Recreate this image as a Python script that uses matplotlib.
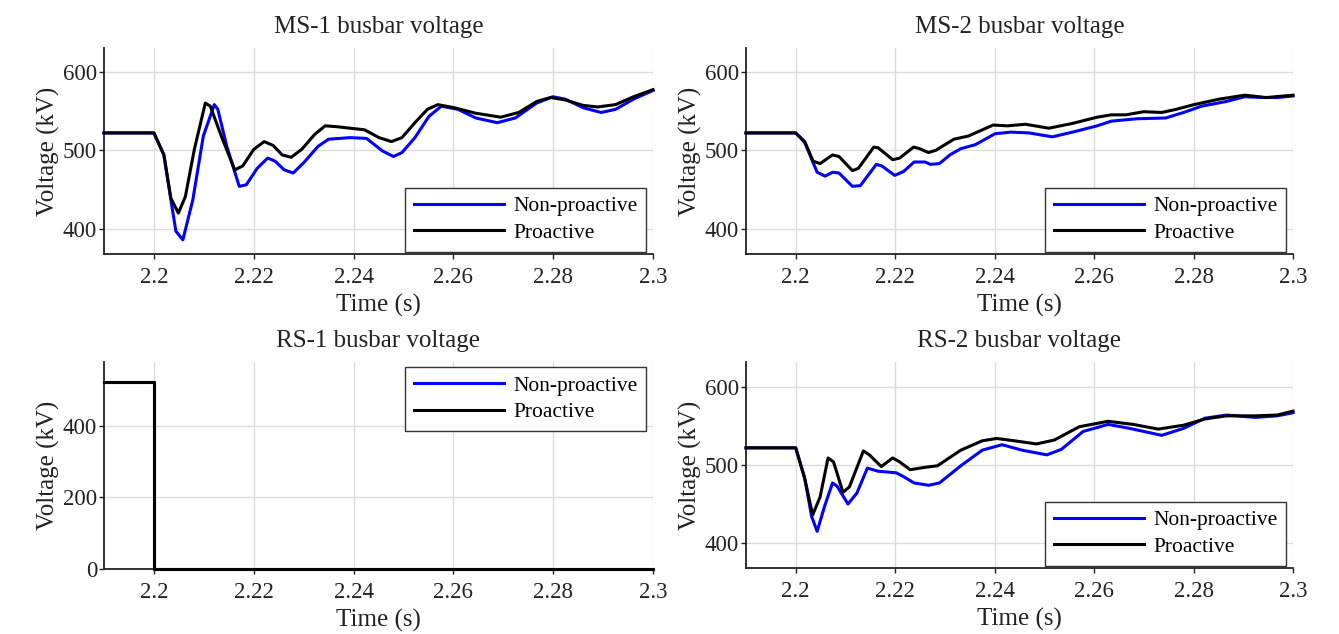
import numpy as np
import matplotlib.pyplot as plt

plt.rcParams['font.family'] = ['Liberation Serif', 'DejaVu Serif']

# MS-1 busbar voltage (kV)
ms1_t_non = [2.19, 2.2, 2.202, 2.2034, 2.2044, 2.2058, 2.2078, 2.2099, 2.2121, 2.2128,
             2.2146, 2.2171, 2.2185, 2.2207, 2.2228, 2.2243, 2.2261, 2.2279, 2.23, 2.2329,
             2.235, 2.2393, 2.2426, 2.2458, 2.248, 2.2497, 2.2523, 2.2551, 2.2576, 2.2609,
             2.2645, 2.2688, 2.2724, 2.2767, 2.2799, 2.2824, 2.286, 2.2896, 2.2925, 2.2961, 2.3]
ms1_v_non = [522, 522, 494, 437, 397, 386, 437, 518, 558, 552,
             505, 454, 456, 477, 490, 486, 475, 471, 484, 505,
             514, 516, 515, 499, 492, 497, 516, 543, 556, 552,
             541, 535, 541, 560, 568, 565, 554, 548, 552, 565, 576]
ms1_t_pro = [2.19, 2.2, 2.202, 2.2034, 2.2049, 2.2063, 2.2081, 2.2103, 2.2113, 2.2135,
             2.2162, 2.2178, 2.22, 2.2221, 2.2239, 2.2257, 2.2275, 2.2296, 2.2322, 2.2343,
             2.2365, 2.2393, 2.2422, 2.2451, 2.2476, 2.2497, 2.2523, 2.2548, 2.2569, 2.2602,
             2.2645, 2.2695, 2.2731, 2.2767, 2.2795, 2.2824, 2.286, 2.2889, 2.2925, 2.2961, 2.3]
ms1_v_pro = [522, 522, 494, 439, 420, 441, 501, 560, 556, 518,
             475, 480, 501, 511, 506, 494, 491, 501, 520, 531,
             530, 528, 526, 516, 511, 516, 535, 552, 558, 554,
             547, 542, 548, 562, 567, 564, 557, 555, 558, 568, 577]

# MS-2 busbar voltage (kV)
ms2_t_non = [2.19, 2.2, 2.2018, 2.2043, 2.2059, 2.2074, 2.2087, 2.2114, 2.213, 2.2162,
             2.2173, 2.2199, 2.2217, 2.2238, 2.226, 2.2271, 2.2289, 2.231, 2.2332, 2.2361,
             2.2401, 2.2433, 2.2469, 2.2516, 2.2563, 2.2606, 2.2635, 2.2686, 2.2744, 2.278,
             2.2816, 2.2866, 2.2903, 2.2939, 2.2968, 2.3]
ms2_v_non = [522, 522, 510, 472, 467, 472, 471, 454, 455, 482,
             480, 468, 473, 485, 485, 482, 483, 494, 502, 507,
             521, 523, 522, 517, 524, 531, 537, 540, 541, 548,
             556, 562, 568, 567, 567, 569]
ms2_t_pro = [2.19, 2.2, 2.2018, 2.2035, 2.2049, 2.2074, 2.2087, 2.2114, 2.2126, 2.2157,
             2.2166, 2.2195, 2.2209, 2.2237, 2.2249, 2.2267, 2.2282, 2.2318, 2.2347, 2.2372,
             2.2397, 2.2426, 2.2462, 2.2509, 2.2556, 2.2606, 2.2635, 2.2664, 2.27, 2.2736,
             2.2765, 2.2801, 2.2852, 2.2903, 2.2946, 2.3]
ms2_v_pro = [522, 522, 511, 486, 483, 494, 492, 474, 477, 504,
             503, 488, 490, 504, 502, 497, 500, 514, 518, 525,
             532, 531, 533, 528, 534, 542, 545, 545, 549, 548,
             552, 558, 565, 570, 567, 570]

# RS-1 busbar voltage (kV)
rs1_t = [2.19, 2.2, 2.2, 2.3]
rs1_v_non = [522, 522, 0, 0]
rs1_v_pro = [522, 522, 0, 0]

# RS-2 busbar voltage (kV)
rs2_t_non = [2.19, 2.2, 2.2018, 2.2032, 2.2043, 2.2058, 2.2074, 2.2083, 2.2105, 2.2123,
             2.2144, 2.2166, 2.2202, 2.2217, 2.2238, 2.2267, 2.2289, 2.2332, 2.2375, 2.2415,
             2.2455, 2.2505, 2.2534, 2.2578, 2.2628, 2.2671, 2.2736, 2.278, 2.2823, 2.2866,
             2.2924, 2.2968, 2.3]
rs2_v_non = [522, 522, 483, 434, 415, 447, 477, 473, 450, 464,
             496, 492, 490, 485, 477, 474, 477, 499, 519, 526,
             519, 513, 520, 543, 552, 547, 538, 547, 560, 564,
             561, 563, 567]
rs2_t_pro = [2.19, 2.2, 2.2018, 2.2034, 2.2049, 2.2065, 2.2076, 2.2095, 2.2108, 2.2136,
             2.2148, 2.2172, 2.2195, 2.2209, 2.223, 2.226, 2.2285, 2.2332, 2.2375, 2.2404,
             2.244, 2.2484, 2.252, 2.257, 2.2628, 2.2679, 2.2729, 2.278, 2.2823, 2.2866,
             2.2924, 2.2968, 2.3]
rs2_v_pro = [522, 522, 483, 436, 459, 509, 504, 465, 472, 518,
             513, 498, 509, 504, 494, 497, 499, 519, 531, 534,
             531, 527, 532, 549, 556, 552, 546, 551, 559, 563,
             563, 564, 569]

x_ticks = [2.2, 2.22, 2.24, 2.26, 2.28, 2.3]
x_tick_labels = ['2.2', '2.22', '2.24', '2.26', '2.28', '2.3']

panels = [
    ("MS-1 busbar voltage", ms1_t_non, ms1_v_non, ms1_t_pro, ms1_v_pro, (368, 630), [400, 500, 600], 'lower right'),
    ("MS-2 busbar voltage", ms2_t_non, ms2_v_non, ms2_t_pro, ms2_v_pro, (368, 630), [400, 500, 600], 'lower right'),
    ("RS-1 busbar voltage", rs1_t, rs1_v_non, rs1_t, rs1_v_pro, (0, 578), [0, 200, 400], 'upper right'),
    ("RS-2 busbar voltage", rs2_t_non, rs2_v_non, rs2_t_pro, rs2_v_pro, (368, 632), [400, 500, 600], 'lower right'),
]

W, H = 1339, 634
boxes = [(104, 48, 653, 254), (746, 48, 1293, 254), (104, 362, 653, 569), (746, 362, 1293, 568)]

fig = plt.figure(figsize=(W / 100, H / 100), dpi=100)

for (title, tn, vn, tp, vp, ylim, yt, loc), (x0, y0, x1, y1) in zip(panels, boxes):
    ax = fig.add_axes([x0 / W, 1 - y1 / H, (x1 - x0) / W, (y1 - y0) / H])
    ax.plot(tn, vn, color=(0, 0, 1), lw=2.2, label='Non-proactive', clip_on=False, zorder=3)
    ax.plot(tp, vp, color='black', lw=2.2, label='Proactive', clip_on=False, zorder=3)
    ax.set_xlim(2.19, 2.3)
    ax.set_ylim(*ylim)
    ax.set_xticks(x_ticks)
    ax.set_xticklabels(x_tick_labels)
    ax.set_yticks(yt)
    ax.grid(True, color='#dcdcdc', lw=1.0)
    ax.set_axisbelow(True)
    for s in ['top', 'right']:
        ax.spines[s].set_visible(False)
    for s in ['left', 'bottom']:
        ax.spines[s].set_linewidth(1.3)
        ax.spines[s].set_color('#222222')
        ax.spines[s].set_zorder(2.5)
    ax.tick_params(direction='out', length=3.5, width=1.0, labelsize=16.5, colors='#222222')
    ax.tick_params(axis='x', pad=6)
    ax.tick_params(axis='y', pad=1.5)
    ax.set_xlabel('Time (s)', fontsize=18, labelpad=4, color='#222222')
    ax.set_ylabel('Voltage (kV)', fontsize=18, labelpad=2, color='#222222')
    ax.set_title(title, fontsize=18, pad=11, color='#222222')
    if loc == 'lower right':
        anchor = (0.987, 0.012)
    else:
        anchor = (0.987, 0.975)
    leg = ax.legend(loc=loc, bbox_to_anchor=anchor, fontsize=15.5, frameon=True, fancybox=False,
                    handlelength=4.2, handletextpad=0.4, borderpad=0.4, labelspacing=0.3,
                    borderaxespad=0)
    leg.get_frame().set_edgecolor('#333333')
    leg.get_frame().set_linewidth(1.0)
    leg.get_frame().set_alpha(1)
    leg.set_zorder(5)

fig.savefig('out.png', dpi=100)
